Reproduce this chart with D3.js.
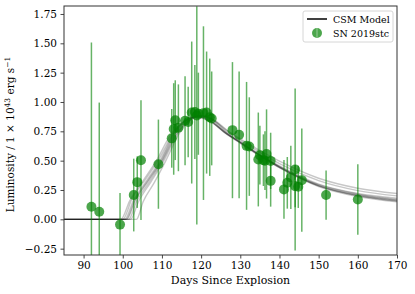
<!DOCTYPE html>
<html>
<head>
<meta charset="utf-8">
<script src="https://cdn.jsdelivr.net/npm/d3@7"></script>
<style>
  body { margin: 0; background: #fff; }
  svg text { font-family: "DejaVu Serif", serif; fill: #000; }
</style>
</head>
<body>
<svg id="chart"></svg>
<script>
// observed light curve of SN 2019stc (days, luminosity in 1e43 erg/s, 1-sigma error)
const obsDays = [92.0, 94.0, 99.3, 102.8, 103.7, 104.65, 109.1, 112.5, 113.0, 113.4, 114.2,
  115.9, 116.7, 117.6, 118.4, 118.9, 119.3, 120.6, 121.4, 122.2, 122.7,
  128.0, 129.7, 131.6, 132.3, 134.6, 135.0, 135.9, 136.3, 136.7, 137.75, 137.75,
  141.15, 142.0, 142.9, 144.0, 144.0, 144.8, 145.7, 151.9, 160.0];
const obsLum = [0.107, 0.065, -0.045, 0.207, 0.317, 0.504, 0.47, 0.69, 0.77, 0.845, 0.78,
  0.84, 0.83, 0.91, 0.915, 0.885, 0.90, 0.905, 0.91, 0.87, 0.86,
  0.76, 0.72, 0.626, 0.62, 0.51, 0.547, 0.504, 0.50, 0.557, 0.498, 0.328,
  0.255, 0.311, 0.357, 0.425, 0.283, 0.277, 0.334, 0.207, 0.169];
const obsErr = [1.40, 0.93, 0.27, 0.31, 0.22, 0.51, 0.38, 0.25, 0.39, 0.34, 0.37,
  0.38, 0.30, 0.605, 0.40, 0.93, 0.35, 0.74, 0.52, 0.50, 0.40,
  0.58, 0.54, 0.545, 0.42, 0.40, 0.25, 0.22, 0.25, 0.38, 0.24, 0.22,
  0.25, 0.22, 0.27, 0.69, 0.18, 0.18, 0.44, 0.21, 0.30];

// CSM model samples, [day, luminosity]
const modelA = [[85,0],[100.5,0],[102.7,0.16],[106.1,0.33],[109.5,0.50],[113,0.73],[116,0.84],[119,0.88],[122,0.85],[126.5,0.73],[130,0.655],[135,0.547],[140,0.447],[150,0.29],[160,0.207],[170,0.164]];
const modelB = [[85,0],[99.5,0],[101.8,0.16],[105.2,0.33],[108.6,0.50],[112.2,0.72],[115.5,0.83],[118.5,0.87],[122,0.84],[126.5,0.73],[130,0.66],[135,0.55],[140,0.455],[150,0.30],[160,0.22],[170,0.18]];
const modelC = [[85,0],[102,0],[104,0.15],[107.2,0.32],[110.5,0.50],[113.8,0.72],[116.8,0.84],[119.5,0.88],[122.5,0.85],[126.5,0.735],[130,0.655],[135,0.545],[140,0.445],[150,0.285],[160,0.20],[170,0.155]];
const modelD = [[85,0],[103.5,0],[105.2,0.15],[108,0.31],[111,0.50],[114.2,0.72],[117,0.84],[120,0.885],[123,0.85],[127,0.73],[130,0.66],[135,0.55],[140,0.45],[150,0.295],[160,0.215],[170,0.17]];
const modelE = [[85,0],[100,0],[102.3,0.17],[105.8,0.34],[109.2,0.51],[112.8,0.73],[115.8,0.84],[118.8,0.875],[122,0.845],[126.5,0.725],[130,0.65],[135,0.54],[140,0.44],[150,0.285],[160,0.205],[170,0.16]];
const modelF = [[85,0],[101,0],[103.2,0.16],[106.6,0.33],[110,0.50],[113.5,0.73],[116.5,0.84],[119.5,0.885],[122.5,0.855],[127,0.745],[130,0.675],[135,0.57],[140,0.475],[150,0.33],[160,0.245],[170,0.20]];
const modelG = [[85,0],[101.5,0],[103.5,0.15],[106.8,0.32],[110.2,0.50],[113.6,0.72],[116.5,0.83],[119.2,0.87],[122.2,0.84],[126.5,0.73],[130,0.65],[135,0.54],[140,0.44],[150,0.28],[160,0.195],[170,0.15]];
const modelH = [[85,0],[100.8,0],[103,0.16],[106.4,0.33],[109.8,0.50],[113.2,0.73],[116.2,0.84],[119,0.88],[122.5,0.86],[127,0.75],[130,0.685],[135,0.585],[140,0.495],[150,0.35],[160,0.265],[170,0.22]];
const modelSamples = [modelA, modelB, modelC, modelD, modelE, modelF, modelG, modelH];

const xTicks = [90, 100, 110, 120, 130, 140, 150, 160, 170];
const yTicks = [-0.25, 0, 0.25, 0.5, 0.75, 1.0, 1.25, 1.5, 1.75];
const legendLabels = ["CSM Model", "SN 2019stc"];

function getConfig() {
    let width = 415;
    let height = 294;
    let margin = { top: 6, right: 18, bottom: 39, left: 64 };
    let bodyWidth = width - margin.left - margin.right;
    let bodyHeight = height - margin.top - margin.bottom;
    let container = d3.select("#chart").attr("width", width).attr("height", height);
    return { width, height, margin, bodyWidth, bodyHeight, container };
}

function getScales(config) {
    let { margin, bodyWidth, bodyHeight } = config;
    let xScale = d3.scaleLinear().domain([85, 170])
        .range([margin.left, margin.left + bodyWidth]);
    let yScale = d3.scaleLinear().domain([-0.304, 1.818])
        .range([margin.top + bodyHeight, margin.top]);
    return { xScale, yScale };
}

function drawModels(scales, config) {
    let { xScale, yScale } = scales;
    let line = d3.line()
        .x(d => xScale(d[0]))
        .y(d => yScale(d[1]))
        .curve(d3.curveMonotoneX);
    config.body.selectAll(".model")
        .data(modelSamples)
        .enter().append("path")
        .attr("class", "model")
        .attr("d", line)
        .attr("fill", "none")
        .attr("stroke", "#000")
        .attr("stroke-width", 1.4)
        .attr("stroke-opacity", 0.22);
}

function drawObservations(scales, config) {
    let { xScale, yScale } = scales;
    let obs = obsDays.map((d, i) => ({ day: d, lum: obsLum[i], err: obsErr[i] }));

    config.body.selectAll(".err")
        .data(obs)
        .enter().append("line")
        .attr("class", "err")
        .attr("x1", d => xScale(d.day))
        .attr("x2", d => xScale(d.day))
        .attr("y1", d => yScale(d.lum - d.err))
        .attr("y2", d => yScale(d.lum + d.err))
        .attr("stroke", "green")
        .attr("stroke-opacity", 0.6)
        .attr("stroke-width", 1.5);

    config.body.selectAll(".pt")
        .data(obs)
        .enter().append("circle")
        .attr("class", "pt")
        .attr("cx", d => xScale(d.day))
        .attr("cy", d => yScale(d.lum))
        .attr("r", 5)
        .attr("fill", "green")
        .attr("fill-opacity", 0.7);
}

function drawAxes(scales, config) {
    let { xScale, yScale } = scales;
    let { container, margin, height, bodyWidth, bodyHeight } = config;

    let axisX = d3.axisBottom(xScale).tickValues(xTicks)
        .tickSize(3.5).tickPadding(3.5).tickSizeOuter(0);
    let gx = container.append("g")
        .attr("transform", "translate(0," + (margin.top + bodyHeight) + ")")
        .call(axisX);

    let axisY = d3.axisLeft(yScale).tickValues(yTicks)
        .tickFormat(d3.format(".2f"))
        .tickSize(3.5).tickPadding(3.5).tickSizeOuter(0);
    let gy = container.append("g")
        .attr("transform", "translate(" + margin.left + ",0)")
        .call(axisY);

    [gx, gy].forEach(g => {
        g.select(".domain").remove();
        g.selectAll("text").style("font-size", "10.5px").attr("fill", "#000");
        g.selectAll("line").attr("stroke", "#333").attr("stroke-width", 0.9);
    });

    // frame (all four spines)
    container.append("rect")
        .attr("x", margin.left).attr("y", margin.top)
        .attr("width", bodyWidth).attr("height", bodyHeight)
        .attr("fill", "none").attr("stroke", "#333").attr("stroke-width", 1);

    container.append("text")
        .attr("x", margin.left + bodyWidth / 2).attr("y", 284)
        .attr("text-anchor", "middle")
        .style("font-size", "11px")
        .text("Days Since Explosion");

    let yl = container.append("text")
        .attr("transform", "translate(14," + (margin.top + bodyHeight / 2 + 4) + ") rotate(-90)")
        .attr("text-anchor", "middle")
        .style("font-size", "10.5px");
    yl.append("tspan").text("Luminosity / 1 \u00d7 10");
    yl.append("tspan").attr("dy", -4).style("font-size", "7.5px").text("43");
    yl.append("tspan").attr("dy", 4).text(" erg s");
    yl.append("tspan").attr("dy", -4).style("font-size", "7.5px").text("\u22121");
}

function drawLegend(config) {
    let { container } = config;
    let g = container.append("g");
    g.append("rect")
        .attr("x", 303).attr("y", 11).attr("width", 90).attr("height", 31)
        .attr("rx", 2)
        .attr("fill", "#fff").attr("fill-opacity", 0.8)
        .attr("stroke", "#ccc").attr("stroke-width", 0.8);
    g.append("line")
        .attr("x1", 307).attr("x2", 327).attr("y1", 19).attr("y2", 19)
        .attr("stroke", "#000").attr("stroke-width", 1.5);
    g.append("circle")
        .attr("cx", 317).attr("cy", 33).attr("r", 5)
        .attr("fill", "green").attr("fill-opacity", 0.7);
    g.append("line")
        .attr("x1", 317).attr("x2", 317).attr("y1", 28).attr("y2", 38)
        .attr("stroke", "#7fbf7f").attr("stroke-width", 1.5);
    g.selectAll(".leg")
        .data(legendLabels)
        .enter().append("text")
        .attr("x", 333)
        .attr("y", (d, i) => 22.5 + i * 14)
        .style("font-size", "9.5px")
        .text(d => d);
}

function drawChart() {
    let config = getConfig();
    let scales = getScales(config);
    let { container, margin, bodyWidth, bodyHeight } = config;
    container.append("clipPath").attr("id", "clip")
        .append("rect")
        .attr("x", margin.left).attr("y", margin.top)
        .attr("width", bodyWidth).attr("height", bodyHeight);
    config.body = container.append("g").attr("clip-path", "url(#clip)");
    drawModels(scales, config);
    drawObservations(scales, config);
    drawAxes(scales, config);
    drawLegend(config);
}

drawChart();
</script>
</body>
</html>
